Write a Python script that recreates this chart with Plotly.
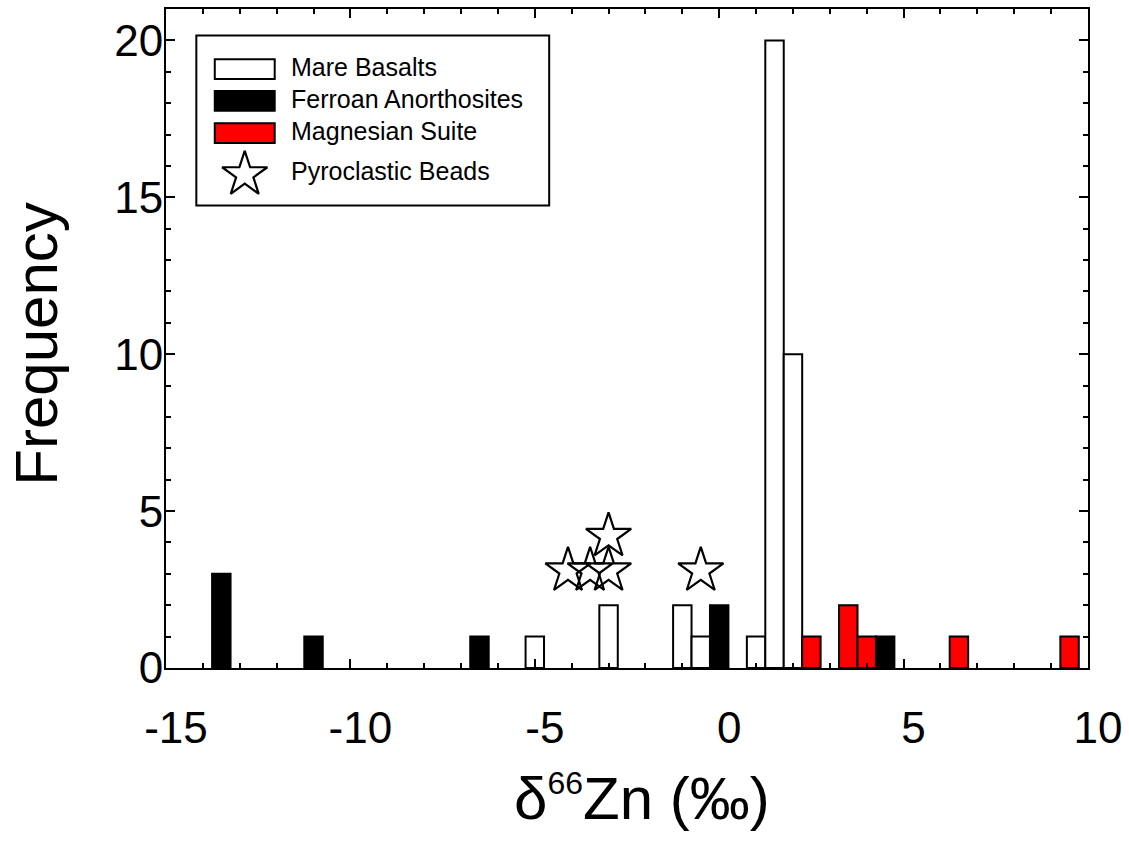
import plotly.graph_objects as go

# ---- data ----
mare_x = [-5.0, -3.0, -1.0, -0.5, 1.0, 1.5, 2.0]
mare_y = [1, 2, 2, 1, 1, 20, 10]

ferroan_x = [-13.5, -11.0, -6.5, 0.0, 4.5]
ferroan_y = [3, 1, 1, 2, 1]

magnesian_x = [2.5, 3.5, 4.0, 6.5, 9.5]
magnesian_y = [1, 2, 1, 1, 1]

pyro_x = [-4.1, -3.5, -3.0, -3.0, -0.5]
pyro_y = [3.1, 3.1, 3.1, 4.2, 3.1]

bin_width = 0.5

x_tickvals = [-15, -10, -5, 0, 5, 10]
x_ticktext = ["-15", "-10", "-5", "0", "5", "10"]
y_tickvals = [0, 5, 10, 15, 20]

legend_labels = ["Mare Basalts", "Ferroan Anorthosites", "Magnesian Suite", "Pyroclastic Beads"]
legend_fills = ["white", "black", "#ff0000", None]

FONT = "Liberation Sans, Arial, sans-serif"

fig = go.Figure()

series = [
    (legend_labels[0], mare_x, mare_y, legend_fills[0]),
    (legend_labels[1], ferroan_x, ferroan_y, legend_fills[1]),
    (legend_labels[2], magnesian_x, magnesian_y, legend_fills[2]),
]
for name, xs, ys, fill in series:
    fig.add_trace(go.Bar(
        x=xs, y=ys, width=bin_width, name=name, showlegend=False,
        marker=dict(color=fill, line=dict(color="black", width=2)),
    ))

star_marker = dict(symbol="star-open", size=34, color="black", line=dict(width=2.2, color="black"))
fig.add_trace(go.Scatter(
    x=pyro_x, y=pyro_y, mode="markers", name=legend_labels[3], showlegend=False,
    marker=star_marker, cliponaxis=False,
))

# ---- manual legend (paper coordinates) ----
box = dict(x0=0.0329, x1=0.4156, y0=0.7018, y1=0.9598)
fig.add_shape(type="rect", xref="paper", yref="paper", **box,
              line=dict(color="black", width=2), fillcolor="white", layer="below")
row_y = [0.9088, 0.8606, 0.8115, 0.7487]
sw_x0, sw_x1, sw_h = 0.0529, 0.1179, 0.0150
text_x = 0.1330
text_dy = [0.003, 0.003, 0.003, 0.005]
for i, lab in enumerate(legend_labels):
    if legend_fills[i] is not None:
        fig.add_shape(type="rect", xref="paper", yref="paper",
                      x0=sw_x0, x1=sw_x1, y0=row_y[i] - sw_h, y1=row_y[i] + sw_h,
                      line=dict(color="black", width=2), fillcolor=legend_fills[i], layer="below")
    fig.add_annotation(xref="paper", yref="paper", x=text_x, y=row_y[i] + text_dy[i], text=lab,
                       showarrow=False, xanchor="left", yanchor="middle",
                       font=dict(family=FONT, size=25, color="black"))

# legend star on an invisible overlay axis spanning the plot area
fig.add_trace(go.Scatter(
    x=[(sw_x0 + sw_x1) / 2], y=[row_y[3]], xaxis="x2", yaxis="y2", mode="markers",
    showlegend=False, hoverinfo="skip", marker=star_marker, cliponaxis=False,
))

axis_common = dict(
    showline=True, linewidth=2, linecolor="black", mirror="ticks",
    ticks="inside", tickwidth=2, tickcolor="black", ticklen=9,
    showgrid=False, zeroline=False,
    tickfont=dict(family=FONT, size=44, color="black"),
)

fig.update_layout(
    width=1129, height=845,
    margin=dict(l=166, r=40, t=7, b=177),
    paper_bgcolor="white", plot_bgcolor="white",
    barmode="overlay",
    showlegend=False,
    font=dict(family=FONT, color="black"),
    xaxis=dict(range=[-15, 10], tickmode="array", tickvals=x_tickvals, ticktext=x_ticktext,
               ticklabelstandoff=20, ticklabelshift=10,
               minor=dict(tickmode="linear", tick0=0, dtick=1, ticks="inside", ticklen=5,
                          tickwidth=2, tickcolor="black"),
               **axis_common),
    yaxis=dict(range=[0, 21], tickmode="array", tickvals=y_tickvals,
               ticklabelstandoff=-8,
               minor=dict(tickmode="linear", tick0=0, dtick=1, ticks="inside", ticklen=5,
                          tickwidth=2, tickcolor="black"),
               **axis_common),
    xaxis2=dict(range=[0, 1], overlaying="x", visible=False, fixedrange=True),
    yaxis2=dict(range=[0, 1], overlaying="y", visible=False, fixedrange=True),
)

fig.add_annotation(xref="paper", yref="paper", x=0.516, y=-0.198,
                   text="δ<sup><span style='font-size:32px'>66</span></sup>Zn (‰)", showarrow=False,
                   xanchor="center", yanchor="middle",
                   font=dict(family=FONT, size=60, color="black"))
fig.add_annotation(xref="paper", yref="paper", x=-0.140, y=0.492,
                   text="Frequency", showarrow=False, textangle=-90,
                   xanchor="center", yanchor="middle",
                   font=dict(family=FONT, size=60, color="black"))

fig.write_html("out.html")
